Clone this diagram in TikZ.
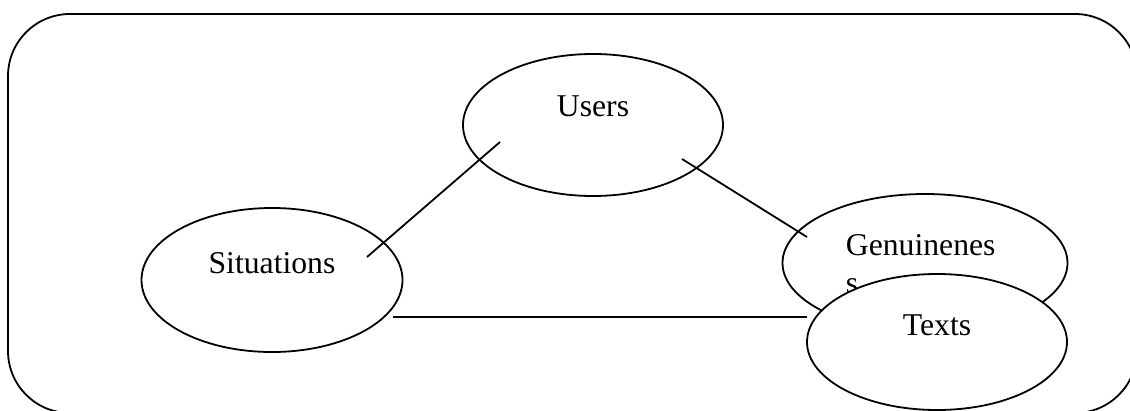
\documentclass[tikz,border=0pt]{standalone}
\usepackage{fontspec}
\setmainfont{Liberation Serif}
\usetikzlibrary{shapes.geometric}

\begin{document}
\begin{tikzpicture}[x=1pt, y=-1pt, line width=1.8pt,
  bubble/.style={ellipse, draw, inner sep=0pt},
  word/.style={font=\fontsize{31.7}{38}\selectfont, inner sep=0pt}]
  \useasboundingbox (0,0) rectangle (1130,410);
  \clip (0,0) rectangle (1130,410);
  \draw[rounded corners=62pt] (8,14) rectangle (1137,413);

  \node[bubble, minimum width=260pt, minimum height=142pt] (users) at (593,125) {};
  \node[bubble, minimum width=261pt, minimum height=144pt] (situations) at (272,280) {};
  \node[bubble, minimum width=285pt, minimum height=138pt] (genuine) at (925,263) {};

  \node[word, anchor=base] (userstext) at (593,116) {Users};
  \node[word, anchor=base] (situationstext) at (272,273) {Situations};
  \node[word, anchor=base west] (genuinetext) at (845,255) {Genuinenes};
  \node[word, anchor=base west] (genuinetextb) at (845,293) {s};

  \coordinate (A) at (367,257);
  \coordinate (B) at (500,142);
  \coordinate (C) at (682,159);
  \coordinate (D) at (807,237);
  \coordinate (E) at (393,317);
  \coordinate (F) at (807,317);

  \draw (A) -- (B);
  \draw (C) -- (D);
  \draw (E) -- (F);

  \node[bubble, fill=white, minimum width=260pt, minimum height=136pt] (texts) at (937,342) {};
  \node[word, anchor=base] (textstext) at (937,335) {Texts};
\end{tikzpicture}
\end{document}
